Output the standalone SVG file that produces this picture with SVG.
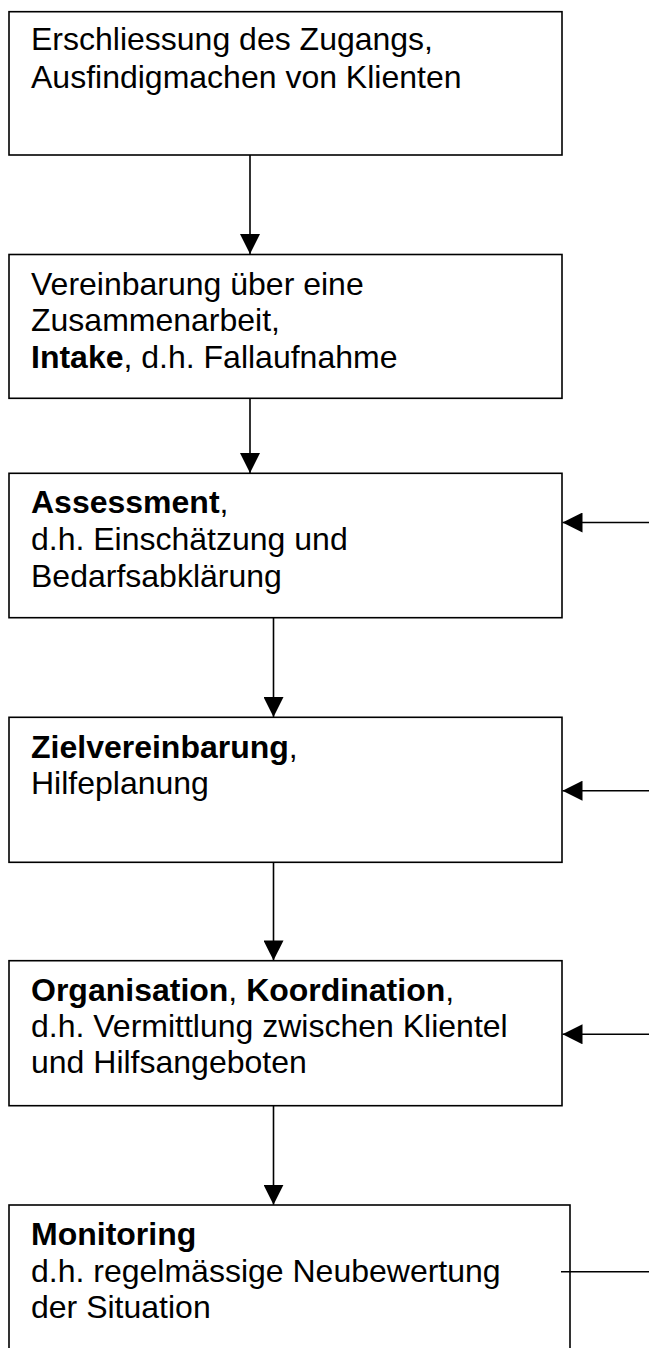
<svg xmlns="http://www.w3.org/2000/svg" width="649" height="1348" viewBox="0 0 649 1348">
<style>
.box{fill:#fff;stroke:#000;stroke-width:1.6}
.t{font-family:"Liberation Sans",Arial,sans-serif;font-size:32px;fill:#000}
.b{font-weight:bold}
.c{stroke:#000;stroke-width:1.6;fill:none}
</style>
<defs>
<marker id="ah" markerUnits="userSpaceOnUse" markerWidth="20" markerHeight="20" refX="20" refY="10" orient="auto" viewBox="0 0 20 20">
<path d="M0,0 L20,10 L0,20 Z" fill="#000"/>
</marker>
</defs>
<rect width="649" height="1348" fill="#fff"/>
<g id="n1">
<rect class="box" x="9" y="11.7" width="553" height="143.3"/>
<text class="t" x="31" y="50">Erschliessung des Zugangs,</text>
<text class="t" x="31" y="88">Ausfindigmachen von Klienten</text>
</g>
<g id="n2">
<rect class="box" x="9" y="254.5" width="553" height="143.8"/>
<text class="t" x="31" y="294.5">Vereinbarung über eine</text>
<text class="t" x="31" y="331">Zusammenarbeit,</text>
<text class="t" x="31" y="367.7"><tspan class="b">Intake</tspan>, d.h. Fallaufnahme</text>
</g>
<g id="n3">
<rect class="box" x="9" y="473.3" width="553" height="144.4"/>
<text class="t" x="31" y="513.3"><tspan class="b">Assessment</tspan>,</text>
<text class="t" x="31" y="550">d.h. Einschätzung und</text>
<text class="t" x="31" y="586.7">Bedarfsabklärung</text>
</g>
<g id="n4">
<rect class="box" x="9" y="717.3" width="553" height="145"/>
<text class="t" x="31" y="757.5"><tspan class="b">Zielvereinbarung</tspan>,</text>
<text class="t" x="31" y="794.2">Hilfeplanung</text>
</g>
<g id="n5">
<rect class="box" x="9" y="960.7" width="553" height="145"/>
<text class="t" x="31" y="1001"><tspan class="b">Organisation</tspan>, <tspan class="b">Koordination</tspan>,</text>
<text class="t" x="31" y="1036.7">d.h. Vermittlung zwischen Klientel</text>
<text class="t" x="31" y="1073.3">und Hilfsangeboten</text>
</g>
<g id="n6">
<rect class="box" x="9" y="1205" width="561" height="160"/>
<text class="t b" x="31" y="1245">Monitoring</text>
<text class="t" x="31" y="1281.7">d.h. regelmässige Neubewertung</text>
<text class="t" x="31" y="1318.3">der Situation</text>
</g>
<g id="connectors">
<line class="c" x1="250" y1="155" x2="250" y2="254" marker-end="url(#ah)"/>
<line class="c" x1="250" y1="398.3" x2="250" y2="473" marker-end="url(#ah)"/>
<line class="c" x1="273.5" y1="617.7" x2="273.5" y2="717" marker-end="url(#ah)"/>
<line class="c" x1="273.5" y1="862.3" x2="273.5" y2="960.4" marker-end="url(#ah)"/>
<line class="c" x1="273.5" y1="1105.7" x2="273.5" y2="1204.7" marker-end="url(#ah)"/>
<line class="c" x1="649" y1="522.5" x2="562.5" y2="522.5" marker-end="url(#ah)"/>
<line class="c" x1="649" y1="790.7" x2="562.5" y2="790.7" marker-end="url(#ah)"/>
<line class="c" x1="649" y1="1034.3" x2="562.5" y2="1034.3" marker-end="url(#ah)"/>
<line class="c" x1="561" y1="1271.7" x2="649" y2="1271.7"/>
</g>
</svg>
